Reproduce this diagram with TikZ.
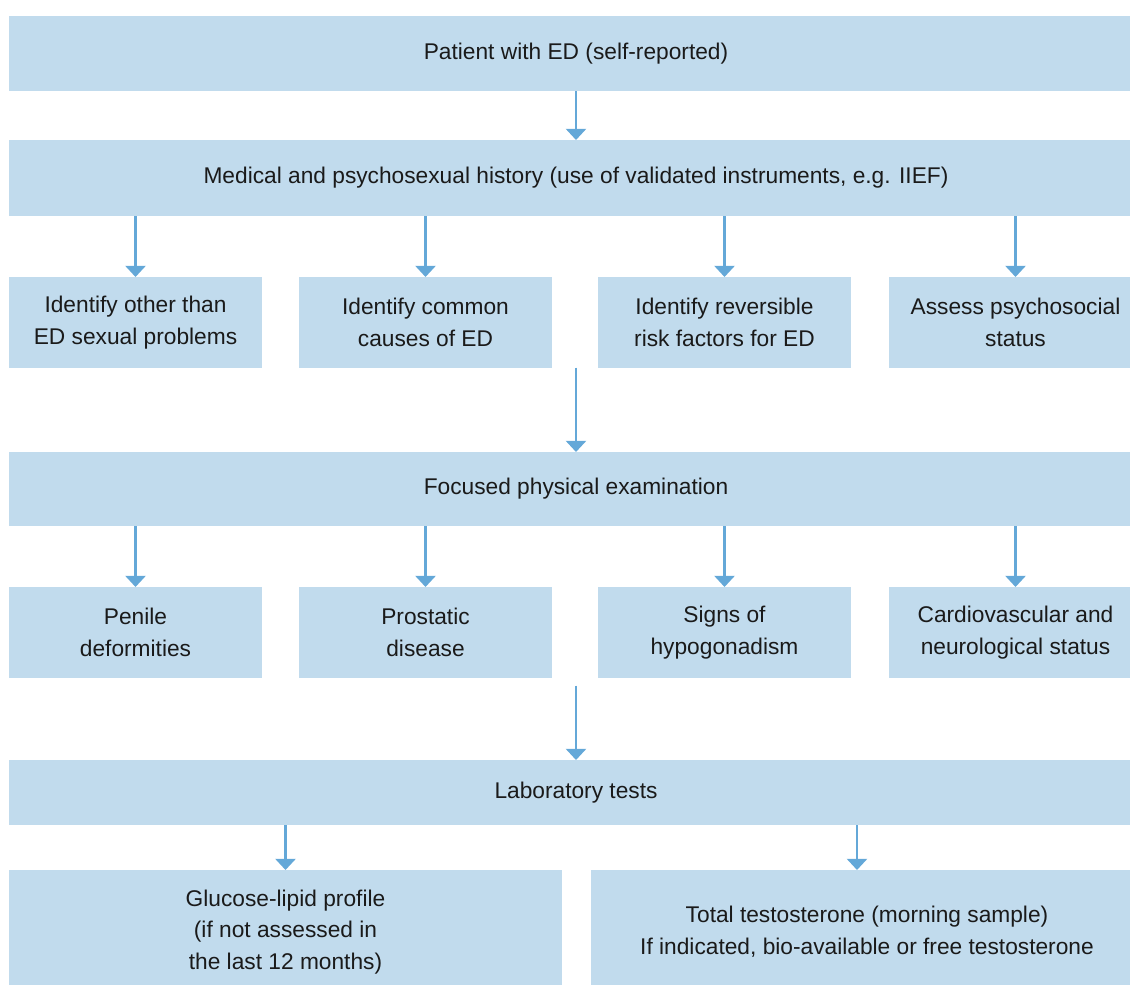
\documentclass[tikz,border=0pt]{standalone}
\usepackage{fontspec}
\setmainfont{Liberation Sans}
\usepackage{tikz}
\usetikzlibrary{arrows.meta, positioning}
\definecolor{boxblue}{RGB}{193,219,237}
\definecolor{arrowblue}{RGB}{100,168,216}
\definecolor{textgray}{RGB}{26,26,26}
\tikzstyle{wide} = [rectangle, minimum width=34.02cm, minimum height=2.25cm, align=center, fill=boxblue, text=textgray, inner sep=0pt, outer sep=0pt]
\tikzstyle{smallbox} = [rectangle, minimum width=7.59cm, minimum height=2.72cm, align=center, fill=boxblue, text=textgray, inner sep=0pt, outer sep=0pt]
\tikzstyle{halfbox} = [rectangle, minimum width=16.56cm, minimum height=3.72cm, align=center, fill=boxblue, text=textgray, inner sep=0pt, outer sep=0pt]
\tikzstyle{arrow} = [line width=2.2pt, draw=arrowblue, -{Triangle[width=17pt,length=9.5pt]}]

\begin{document}
\begin{tikzpicture}[font=\fontsize{19.4pt}{27.2pt}\selectfont]
    \useasboundingbox (0,0) rectangle (33.9,-29.52);
    \clip (0,0) rectangle (33.9,-29.52);
    % 定义节点
    \node (patient) [wide] at (17.28,-1.605) {Patient with ED (self-reported)};
    \node (history) [wide, minimum height=2.28cm, below=1.47cm of patient] {Medical and psychosexual history (use of validated instruments, e.g. IIEF)};

    \node (idother) [smallbox, below=1.83cm of history.south west, anchor=north west] {Identify other than\\ED sexual problems};
    \node (idcause) [smallbox, right=1.11cm of idother] {Identify common\\causes of ED};
    \node (idrisk) [smallbox, right=1.38cm of idcause] {Identify reversible\\risk factors for ED};
    \node (psycho) [smallbox, right=1.14cm of idrisk] {Assess psychosocial\\status};

    \node (exam) [wide, minimum height=2.22cm, below=7.08cm of history] {Focused physical examination};

    \node (penile) [smallbox, below=1.83cm of exam.south west, anchor=north west] {Penile\\deformities};
    \node (prostate) [smallbox, right=1.11cm of penile] {Prostatic\\disease};
    \node (hypogon) [smallbox, right=1.38cm of prostate] {Signs of\\hypogonadism};
    \node (cardio) [smallbox, right=1.14cm of hypogon] {Cardiovascular and\\neurological status};

    \node (lab) [wide, minimum height=1.95cm, below=7.02cm of exam] {Laboratory tests};

    \node (glucose) [halfbox, minimum width=16.59cm, below=1.35cm of lab.south west, anchor=north west] {Glucose-lipid profile\\(if not assessed in\\the last 12 months)};
    \node (testo) [halfbox, right=0.87cm of glucose] {Total testosterone (morning sample)\\If indicated, bio-available or free testosterone};
    \coordinate (testoin) at ([xshift=-0.3cm]testo.north);

    % 连接线
    \draw [arrow] (patient) -- (history);
    \draw [arrow] (history.south -| idother) -- (idother);
    \draw [arrow] (history.south -| idcause) -- (idcause);
    \draw [arrow] (history.south -| idrisk) -- (idrisk);
    \draw [arrow] (history.south -| psycho) -- (psycho);
    \draw [arrow] (exam.north |- idother.south) -- (exam);
    \draw [arrow] (exam.south -| penile) -- (penile);
    \draw [arrow] (exam.south -| prostate) -- (prostate);
    \draw [arrow] (exam.south -| hypogon) -- (hypogon);
    \draw [arrow] (exam.south -| cardio) -- (cardio);
    \draw [arrow, shorten <=0.24cm] (lab.north |- penile.south) -- (lab);
    \draw [arrow] (lab.south -| glucose) -- (glucose);
    \draw [arrow] (lab.south -| testoin) -- (testoin);
\end{tikzpicture}
\end{document}
